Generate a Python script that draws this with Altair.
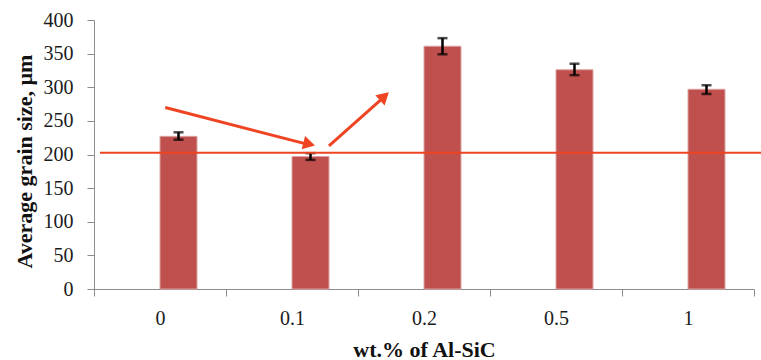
import altair as alt
import pandas as pd

# ---- data ----
categories = ["0", "0.1", "0.2", "0.5", "1"]
series = ["blank", "grain"]  # Excel-style cluster: an empty series sits left of each bar
grain_size = [227, 197, 361, 326, 297]
err_low = [222, 192, 349, 318, 290]
err_high = [233, 202, 373, 335, 303]

# annotation (x in category-index units: 0 = left edge of plot, 5 = right edge)
ref_line_y = [202.7]
ref_line_x = [0.045]
ref_line_x2 = [5.053]

arrow_x1 = [0.54, 1.78]
arrow_y1 = [270, 213]
arrow_x2 = [1.62, 2.20]
arrow_y2 = [215, 286]
head_x = [1.63, 2.20]
head_y = [215.5, 286.5]
head_angle = [14.5, 318]

FONT = "Liberation Serif"
RED = "#C0504D"
ANN = "#EE4422"
GRAY = "#8C8C8C"

bars_df = pd.DataFrame({"cat": categories, "series": "grain", "val": grain_size,
                        "lo": err_low, "hi": err_high})
line_df = pd.DataFrame({"x": ref_line_x, "x2": ref_line_x2, "y": ref_line_y})
arrow_df = pd.DataFrame({"x": arrow_x1, "y": arrow_y1, "x2": arrow_x2, "y2": arrow_y2})
head_df = pd.DataFrame({"x": head_x, "y": head_y, "ang": head_angle})

xaxis = alt.Axis(
    title="wt.% of Al-SiC",
    labelAngle=0,
    tickBand="extent",
    tickSize=7,
    tickColor=GRAY,
    domainColor=GRAY,
    labelFont=FONT,
    labelFontSize=20,
    labelColor="#1a1a1a",
    labelPadding=12,
    titleFont=FONT,
    titleFontSize=22,
    titleFontWeight="bold",
    titleColor="#111111",
    titlePadding=11,
)
xscale = alt.Scale(paddingInner=0, paddingOuter=0)
xoff = alt.XOffset("series:N", scale=alt.Scale(domain=series, paddingInner=0, paddingOuter=0.784))

yscale = alt.Scale(domain=[0, 400], nice=False)
yaxis = alt.Axis(
    title="Average grain size, µm",
    values=list(range(0, 401, 50)),
    labelOverlap=False,
    grid=False,
    tickSize=7,
    tickColor=GRAY,
    domainColor=GRAY,
    labelFont=FONT,
    labelFontSize=20,
    labelColor="#1a1a1a",
    labelPadding=14,
    titleFont=FONT,
    titleFontSize=22,
    titleFontWeight="bold",
    titleColor="#111111",
    titleX=-70,
    titleY=141,
    titleAlign="center",
    titleBaseline="middle",
)

base = alt.Chart(bars_df)
xenc = alt.X("cat:N", sort=categories, scale=xscale, axis=xaxis)
bars = base.mark_bar(color=RED, stroke="#dca3a2", strokeWidth=1).encode(
    x=xenc, xOffset=xoff, y=alt.Y("val:Q", scale=yscale, axis=yaxis)
)
err = base.mark_rule(color="black", strokeWidth=2.5).encode(
    x=xenc, xOffset=xoff, y=alt.Y("lo:Q", scale=yscale, axis=yaxis), y2="hi:Q"
)
cap_lo = base.mark_tick(color="black", thickness=2.5, size=10).encode(
    x=xenc, xOffset=xoff, y=alt.Y("lo:Q", scale=yscale, axis=yaxis)
)
cap_hi = base.mark_tick(color="black", thickness=2.5, size=10).encode(
    x=xenc, xOffset=xoff, y=alt.Y("hi:Q", scale=yscale, axis=yaxis)
)
main = alt.layer(bars, err, cap_lo, cap_hi)

xq = alt.Scale(domain=[0, 5], nice=False, zero=False)
hline = alt.Chart(line_df).mark_rule(color=ANN, strokeWidth=2).encode(
    x=alt.X("x:Q", scale=xq, axis=None), x2="x2:Q",
    y=alt.Y("y:Q", scale=yscale, axis=yaxis)
)
shafts = alt.Chart(arrow_df).mark_rule(color=ANN, strokeWidth=3).encode(
    x=alt.X("x:Q", scale=xq, axis=None), x2="x2:Q",
    y=alt.Y("y:Q", scale=yscale, axis=yaxis), y2="y2:Q"
)
heads = alt.Chart(head_df).mark_point(
    shape="triangle-right", filled=True, color=ANN, opacity=1, size=190
).encode(
    x=alt.X("x:Q", scale=xq, axis=None),
    y=alt.Y("y:Q", scale=yscale, axis=yaxis),
    angle=alt.Angle("ang:Q", scale=None),
)
ann = alt.layer(hline, shafts, heads)

chart = (
    alt.layer(main, ann)
    .resolve_scale(x="independent")
    .properties(
        width=660,
        height=269,
        autosize=alt.AutoSizeParams(type="none"),
        padding={"left": 94, "top": 20, "right": 7, "bottom": 71},
    )
    .configure(background="white", font=FONT)
    .configure_axis(labelFont=FONT, titleFont=FONT)
    .configure_view(stroke=None)
)

chart.save("out.html", embed_options={"renderer": "svg", "actions": False})
